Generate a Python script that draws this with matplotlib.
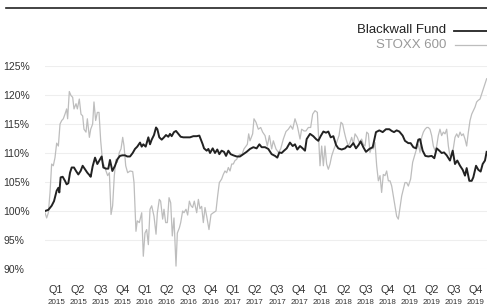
import matplotlib
matplotlib.use("Agg")
import matplotlib.pyplot as plt
from matplotlib.lines import Line2D

plt.rcParams['font.family'] = ['Liberation Sans', 'DejaVu Sans']

# time in years since start of 2015
fund_t = [0.000, 0.038, 0.075, 0.102, 0.132, 0.151, 0.162, 0.177, 0.200, 0.226, 0.245, 0.264,
          0.283, 0.302, 0.328, 0.351, 0.377, 0.403, 0.426, 0.452, 0.479, 0.502, 0.517, 0.539,
          0.566, 0.592, 0.615, 0.641, 0.660, 0.690, 0.716, 0.735, 0.762, 0.792, 0.818, 0.848,
          0.875, 0.905, 0.931, 0.962, 0.992, 1.018, 1.044, 1.075, 1.094, 1.112, 1.139, 1.169,
          1.188, 1.207, 1.233, 1.256, 1.271, 1.293, 1.320, 1.346, 1.369, 1.395, 1.414, 1.433,
          1.459, 1.482, 1.508, 1.535, 1.565, 1.603, 1.640, 1.678, 1.716, 1.746, 1.761, 1.784,
          1.799, 1.829, 1.848, 1.867, 1.897, 1.923, 1.949, 1.972, 1.998, 2.025, 2.048, 2.074,
          2.100, 2.130, 2.168, 2.206, 2.244, 2.281, 2.319, 2.357, 2.394, 2.425, 2.451, 2.489,
          2.526, 2.564, 2.602, 2.628, 2.651, 2.677, 2.704, 2.734, 2.771, 2.802, 2.828, 2.854,
          2.885, 2.915, 2.941, 2.960, 2.998, 3.035, 3.066, 3.092, 3.118, 3.149, 3.179, 3.205,
          3.232, 3.262, 3.292, 3.318, 3.356, 3.394, 3.420, 3.450, 3.488, 3.518, 3.548, 3.571,
          3.601, 3.631, 3.669, 3.707, 3.744, 3.782, 3.820, 3.857, 3.895, 3.922, 3.948, 3.978,
          4.008, 4.046, 4.072, 4.110, 4.136, 4.167, 4.197, 4.223, 4.242, 4.272, 4.302, 4.336,
          4.374, 4.404, 4.431, 4.461, 4.487, 4.514, 4.544, 4.581, 4.612, 4.638, 4.664, 4.695,
          4.725, 4.751, 4.770, 4.800, 4.827, 4.845, 4.876, 4.902, 4.928, 4.951, 4.977, 4.996]
fund = [100.0, 100.2, 100.9, 101.7, 103.5, 104.0, 103.2, 105.8, 105.9, 105.2, 104.6, 104.8,
        106.6, 107.5, 107.5, 106.9, 106.3, 106.9, 107.8, 107.2, 106.6, 106.2, 105.9, 107.7,
        109.2, 108.1, 108.7, 109.4, 107.5, 107.3, 107.3, 108.8, 106.9, 107.8, 108.9, 109.5,
        109.6, 109.6, 109.4, 109.4, 110.0, 110.7, 111.1, 111.8, 111.1, 111.5, 111.1, 112.7,
        111.5, 112.3, 113.1, 114.4, 114.1, 112.7, 112.3, 112.7, 113.1, 112.8, 113.3, 112.9,
        113.6, 113.8, 113.3, 112.8, 112.7, 112.7, 112.7, 112.9, 112.9, 113.0, 112.4, 111.5,
        110.8, 110.4, 110.7, 110.0, 110.8, 110.0, 110.6, 109.8, 110.4, 110.2, 109.5, 110.4,
        109.8, 109.6, 109.4, 109.4, 109.8, 110.2, 110.7, 111.0, 110.8, 111.5, 111.0, 111.0,
        110.7, 109.8, 109.5, 109.2, 110.1, 110.0, 110.4, 110.8, 111.8, 111.2, 111.5, 110.6,
        111.2, 110.8, 110.4, 112.4, 113.3, 112.9, 112.4, 112.1, 112.9, 113.7, 113.5, 113.7,
        112.7, 112.9, 111.4, 110.8, 110.6, 110.8, 111.2, 111.0, 111.7, 110.8, 111.4, 112.0,
        111.0, 110.2, 110.7, 111.0, 113.6, 113.9, 113.6, 114.1, 114.1, 113.8, 113.6, 113.9,
        113.7, 113.0, 112.1, 111.7, 111.7, 111.0, 110.8, 112.3, 112.4, 110.4, 109.5, 109.4,
        109.5, 109.1, 110.8, 110.4, 110.0, 110.1, 109.6, 108.7, 110.4, 108.1, 108.7, 107.8,
        107.1, 106.1, 107.4, 105.2, 105.2, 105.8, 107.8, 107.1, 106.8, 108.1, 108.7, 110.2]

stoxx_t = [0.000, 0.019, 0.038, 0.057, 0.075, 0.094, 0.113, 0.132, 0.151, 0.170, 0.189, 0.207,
           0.226, 0.245, 0.256, 0.275, 0.294, 0.313, 0.328, 0.351, 0.366, 0.388, 0.407, 0.426,
           0.441, 0.464, 0.479, 0.502, 0.517, 0.539, 0.554, 0.573, 0.592, 0.611, 0.630, 0.652,
           0.671, 0.690, 0.709, 0.728, 0.747, 0.765, 0.784, 0.803, 0.818, 0.841, 0.860, 0.879,
           0.894, 0.913, 0.935, 0.962, 0.992, 1.007, 1.029, 1.044, 1.067, 1.094, 1.112, 1.131,
           1.150, 1.169, 1.188, 1.207, 1.233, 1.256, 1.271, 1.293, 1.308, 1.331, 1.346, 1.365,
           1.384, 1.403, 1.422, 1.440, 1.459, 1.482, 1.497, 1.520, 1.535, 1.557, 1.572, 1.595,
           1.614, 1.633, 1.652, 1.670, 1.689, 1.716, 1.735, 1.753, 1.772, 1.791, 1.810, 1.829,
           1.855, 1.878, 1.904, 1.934, 1.953, 1.972, 1.998, 2.017, 2.036, 2.055, 2.074, 2.093,
           2.112, 2.130, 2.149, 2.168, 2.187, 2.206, 2.225, 2.251, 2.274, 2.289, 2.304, 2.319,
           2.349, 2.364, 2.387, 2.413, 2.440, 2.462, 2.489, 2.515, 2.538, 2.564, 2.583, 2.613,
           2.640, 2.666, 2.696, 2.726, 2.753, 2.779, 2.802, 2.828, 2.854, 2.885, 2.903, 2.930,
           2.952, 2.979, 3.005, 3.028, 3.054, 3.081, 3.096, 3.111, 3.130, 3.149, 3.167, 3.186,
           3.205, 3.224, 3.243, 3.269, 3.299, 3.326, 3.348, 3.367, 3.386, 3.405, 3.431, 3.450,
           3.469, 3.488, 3.507, 3.533, 3.556, 3.582, 3.601, 3.620, 3.639, 3.658, 3.676, 3.695,
           3.714, 3.733, 3.752, 3.771, 3.790, 3.808, 3.827, 3.846, 3.865, 3.884, 3.903, 3.922,
           3.940, 3.959, 3.978, 3.997, 4.016, 4.035, 4.054, 4.072, 4.091, 4.110, 4.136, 4.159,
           4.174, 4.197, 4.223, 4.242, 4.261, 4.280, 4.299, 4.318, 4.336, 4.355, 4.374, 4.393,
           4.412, 4.431, 4.449, 4.468, 4.487, 4.506, 4.525, 4.544, 4.563, 4.581, 4.600, 4.619,
           4.638, 4.657, 4.676, 4.695, 4.713, 4.732, 4.751, 4.770, 4.789, 4.808, 4.827, 4.845,
           4.864, 4.883, 4.902, 4.921, 4.940, 4.959, 4.977, 4.996]
stoxx = [99.7, 98.8, 99.7, 103.2, 108.1, 107.8, 109.2, 111.7, 111.2, 115.0, 115.6, 115.9,
         116.7, 117.6, 115.9, 120.6, 119.9, 119.6, 117.6, 118.5, 117.6, 119.3, 116.7, 116.4,
         114.1, 113.6, 115.9, 112.7, 114.1, 115.0, 118.8, 115.6, 117.0, 117.0, 112.1, 108.4,
         107.8, 106.9, 106.1, 106.6, 99.4, 100.9, 106.1, 108.9, 108.4, 110.1, 110.7, 112.7,
         111.2, 107.8, 106.6, 106.9, 106.8, 104.9, 96.5, 98.3, 98.0, 99.7, 92.2, 96.2,
         96.8, 94.2, 100.3, 100.9, 99.1, 96.0, 99.7, 102.0, 101.7, 98.6, 100.3, 98.0,
         98.0, 102.3, 101.4, 95.7, 98.8, 90.5, 96.2, 97.1, 98.0, 100.0, 99.7, 100.3,
         99.3, 101.7, 100.9, 100.6, 101.7, 99.7, 102.0, 100.4, 100.8, 98.0, 100.6, 99.1,
         96.8, 99.4, 99.7, 100.0, 102.6, 104.9, 105.5, 106.3, 106.9, 106.6, 107.5, 106.9,
         108.1, 108.1, 108.7, 108.9, 109.5, 109.8, 109.6, 110.7, 111.2, 111.5, 113.3, 112.1,
         113.3, 115.9, 115.3, 114.1, 114.4, 113.6, 113.0, 111.2, 113.0, 110.7, 112.1, 110.7,
         110.1, 110.7, 112.4, 113.7, 114.1, 114.7, 114.1, 115.9, 114.7, 112.4, 114.1, 113.8,
         113.8, 114.4, 114.4, 116.7, 117.3, 117.0, 112.4, 107.8, 111.2, 107.8, 111.2, 108.1,
         107.2, 108.1, 109.5, 110.7, 111.8, 113.0, 115.3, 115.0, 113.6, 112.4, 111.2, 111.8,
         112.7, 111.5, 113.3, 112.7, 111.8, 112.4, 111.5, 111.2, 113.6, 113.3, 110.1, 111.0,
         110.7, 111.8, 107.8, 105.2, 106.1, 103.2, 106.3, 106.1, 106.9, 105.2, 105.2, 104.3,
         102.6, 100.9, 99.1, 98.6, 100.6, 102.6, 103.8, 104.9, 104.9, 104.3, 105.5, 108.4,
         109.2, 110.4, 111.5, 110.1, 112.7, 113.6, 114.1, 114.4, 114.4, 114.1, 113.0, 111.2,
         110.4, 111.2, 113.0, 114.1, 113.0, 113.6, 113.3, 114.1, 111.2, 109.5, 109.5, 110.8,
         112.7, 113.3, 112.7, 113.6, 113.0, 113.3, 112.4, 111.2, 113.6, 115.6, 116.7, 117.3,
         117.9, 118.8, 119.1, 119.3, 120.2, 121.1, 121.9, 122.8]

years = [2015, 2016, 2017, 2018, 2019]
quarters = ['Q1', 'Q2', 'Q3', 'Q4']
yticks = [90, 95, 100, 105, 110, 115, 120, 125]

fig = plt.figure(figsize=(4.87, 3.06), dpi=100)
ax = fig.add_axes([45/487, 37/306, 442/487, 203/306])

ax.plot(stoxx_t, stoxx, color='#bdbdbd', lw=0.9, zorder=2)
ax.plot(fund_t, fund, color='#222222', lw=1.4, zorder=3)

ax.set_xlim(0, 5)
ax.set_ylim(90, 125)
ax.set_yticks(yticks)
ax.set_yticklabels([f'{v}%' for v in yticks])
ax.yaxis.grid(True, color='#eeeeee', lw=0.8)
ax.set_axisbelow(True)
ax.tick_params(axis='y', length=0, labelsize=7.5, labelcolor='#333333', pad=0)
for lab in ax.get_yticklabels():
    lab.set_horizontalalignment('left')
    lab.set_x(-42/442)
ax.set_xticks([])
for s in ax.spines.values():
    s.set_visible(False)

# quarter labels under the chart
trans = ax.get_xaxis_transform()
for i, y in enumerate(years):
    for j, q in enumerate(quarters):
        xm = i + (j + 0.5) / 4
        ax.text(xm, -0.105, q, transform=trans, ha='center', va='center',
                fontsize=7.8, color='#333333')
        ax.text(xm, -0.163, str(y), transform=trans, ha='center', va='center',
                fontsize=5.8, color='#333333')

# top rule
fig.add_artist(Line2D([6/487, 1.0], [1 - 8/306, 1 - 8/306], color='#222222', lw=1.2))

# legend
fig.text(446/487, 1 - 30/306, 'Blackwall Fund', ha='right', va='center', fontsize=9.5, color='#222222')
fig.add_artist(Line2D([454/487, 1.0], [1 - 31/306, 1 - 31/306], color='#222222', lw=1.3))
fig.text(446/487, 1 - 45/306, 'STOXX 600', ha='right', va='center', fontsize=9.5, color='#999999')
fig.add_artist(Line2D([455/487, 1.0], [1 - 45/306, 1 - 45/306], color='#bdbdbd', lw=0.9))

fig.savefig('out.png', dpi=100)
